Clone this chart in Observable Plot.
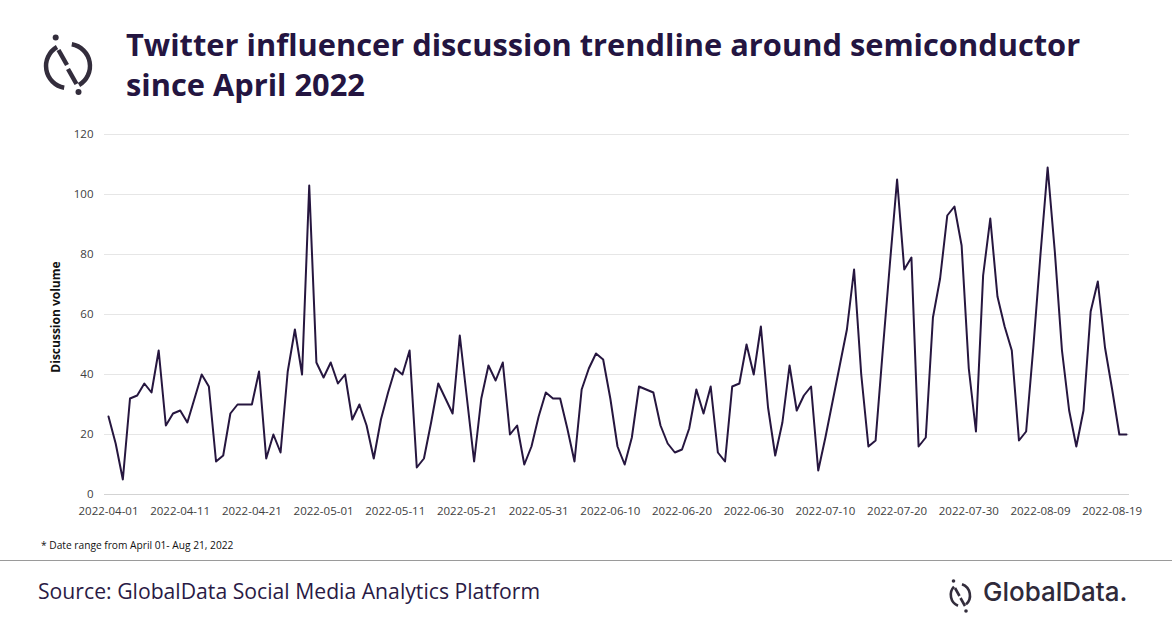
<!DOCTYPE html>
<html>
<head>
<meta charset="utf-8">
<script src="https://cdn.jsdelivr.net/npm/d3@7"></script>
<script src="https://cdn.jsdelivr.net/npm/@observablehq/plot@0.6"></script>
<style>
  html, body { margin: 0; padding: 0; background: #fff; }
  body { width: 1172px; height: 628px; position: relative; overflow: hidden; font-family: "Open Sans", sans-serif; }
  .abs { position: absolute; }
  #title { left: 126px; top: 24px; font-weight: 700; font-size: 30.8px; line-height: 40px; color: #241541; white-space: nowrap; }
  #ylab { left: 55px; top: 317px; transform: translate(-50%, -50%) rotate(-90deg); font-weight: 700; font-size: 12px; color: #111; white-space: nowrap; }
  #note { left: 41px; top: 538px; font-size: 10.2px; color: #111; white-space: nowrap; }
  #rule { left: 0; top: 560px; width: 1172px; height: 0; border-top: 1.5px solid #9a9a9a; }
  #source { left: 38px; top: 576px; font-size: 21.2px; color: #2a1a45; white-space: nowrap; }
  #brand { left: 983px; top: 576px; font-family: Inter, sans-serif; font-weight: 500; font-size: 26px; color: #2f2a3a; letter-spacing: 0px; white-space: nowrap; }
  #chart { left: 0; top: 120px; }
</style>
</head>
<body>
<svg class="abs" style="left:0;top:0" width="140" height="120">
  <g fill="none" stroke="#332d3c" stroke-width="4.5" stroke-linecap="butt">
    <path d="M 57 47 A 22 22 0 0 0 64.2 87.7"/>
    <path d="M 71.8 44.3 A 22 22 0 0 1 79 85"/>
    <line x1="58.5" y1="50" x2="67" y2="65"/>
    <line x1="68" y1="69" x2="76.5" y2="84"/>
  </g>
  <circle cx="55.7" cy="37.5" r="3" fill="#332d3c"/>
  <circle cx="78.5" cy="92" r="3" fill="#332d3c"/>
</svg>
<div id="title" class="abs">Twitter influencer discussion trendline around semiconductor<br>since April 2022</div>
<div id="ylab" class="abs">Discussion volume</div>
<div id="chart" class="abs"></div>
<div id="note" class="abs">* Date range from April 01- Aug 21, 2022</div>
<div id="rule" class="abs"></div>
<div id="source" class="abs">Source: GlobalData Social Media Analytics Platform</div>
<svg class="abs" style="left:940px;top:572px" width="44" height="48">
  <g fill="none" stroke="#332d3c" stroke-width="2.6">
    <path d="M 14 14.6 A 12 12 0 0 0 18 33.8"/>
    <path d="M 22 12.2 A 12 12 0 0 1 26 32.4"/>
    <line x1="15" y1="16" x2="19.5" y2="24"/>
    <line x1="20.5" y1="26" x2="25" y2="34"/>
  </g>
  <circle cx="13.5" cy="9" r="1.8" fill="#332d3c"/>
  <circle cx="26" cy="39" r="1.8" fill="#332d3c"/>
</svg>
<div id="brand" class="abs">GlobalData.</div>
<script>
const startDate = "2022-04-01";
const endDate = "2022-08-21";
const volumes = [
  26, 17, 5, 32, 33, 37, 34, 48, 23, 27,
  28, 24, 32, 40, 36, 11, 13, 27, 30, 30,
  30, 41, 12, 20, 14, 41, 55, 40, 103, 44,
  39, 44, 37, 40, 25, 30, 23, 12, 25, 34,
  42, 40, 48, 9, 12, 24, 37, 32, 27, 53,
  32, 11, 32, 43, 38, 44, 20, 23, 10, 16,
  26, 34, 32, 32, 22, 11, 35, 42, 47, 45,
  32, 16, 10, 19, 36, 35, 34, 23, 17, 14,
  15, 22, 35, 27, 36, 14, 11, 36, 37, 50,
  40, 56, 29, 13, 24, 43, 28, 33, 36, 8,
  19, 31, 43, 55, 75, 40, 16, 18, 48, 77,
  105, 75, 79, 16, 19, 59, 72, 93, 96, 83,
  42, 21, 73, 92, 66, 56, 48, 18, 21, 49,
  80, 109, 81, 48, 28, 16, 28, 61, 71, 49,
  35, 20, 20
];
const xTickLabels = [
  "2022-04-01", "2022-04-11", "2022-04-21", "2022-05-01", "2022-05-11",
  "2022-05-21", "2022-05-31", "2022-06-10", "2022-06-20", "2022-06-30",
  "2022-07-10", "2022-07-20", "2022-07-30", "2022-08-09", "2022-08-19"
];
const yTicks = [0, 20, 40, 60, 80, 100, 120];

const parse = d3.utcParse("%Y-%m-%d");
const fmt = d3.utcFormat("%Y-%m-%d");
const t0 = parse(startDate);
const data = volumes.map((v, i) => ({ date: d3.utcDay.offset(t0, i), value: v }));
const xTicks = xTickLabels.map(parse);

const chart = Plot.plot({
  width: 1172,
  height: 410,
  marginLeft: 104,
  marginRight: 43,
  marginTop: 14,
  marginBottom: 36,
  style: { fontFamily: "'Open Sans', sans-serif", fontSize: "11.5px", color: "#404040", background: "transparent" },
  x: { type: "utc", domain: [parse(startDate), parse(endDate)], insetLeft: 4, insetRight: 3 },
  y: { domain: [0, 120] },
  marks: [
    Plot.ruleY(yTicks.filter(d => d > 0), { stroke: "#e6e6e6", strokeWidth: 1 }),
    Plot.ruleY([0], { stroke: "#d3d3d3", strokeWidth: 1.2 }),
    Plot.axisY({ ticks: yTicks, tickSize: 0, tickPadding: 11, label: null, fontSize: 11.5 }),
    Plot.axisX({ ticks: xTicks, tickSize: 0, tickPadding: 12, label: null, tickFormat: fmt, fontSize: 11.5 }),
    Plot.lineY(data, { x: "date", y: "value", stroke: "#26163f", strokeWidth: 2 })
  ]
});
document.getElementById("chart").appendChild(chart);
</script>
</body>
</html>
